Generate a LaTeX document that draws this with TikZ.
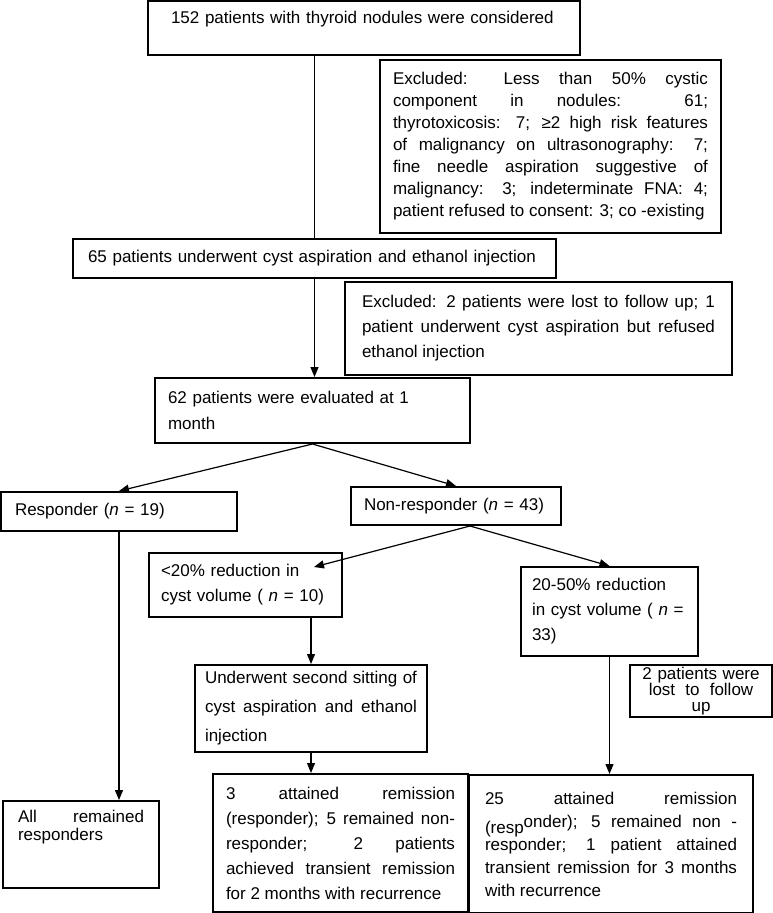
\documentclass[tikz,border=0pt]{standalone}
\usepackage{fontspec}
\setmainfont{Liberation Sans}
\usetikzlibrary{arrows.meta}
\tolerance=10000
\hyphenpenalty=10000
\hbadness=10000

\tikzset{
  flowbox/.style={draw, line width=2pt, inner ysep=0pt, inner xsep=13pt, align=justify},
  flow/.style={line width=1.2pt, -{Triangle[length=10pt,width=8pt]}},
  link/.style={line width=1.2pt}
}

\begin{document}
\begin{tikzpicture}[x=1pt, y=-1pt, font=\fontsize{17}{25}\selectfont]
  \useasboundingbox (0,0) rectangle (773,913);

  % Enrolment
  \node[flowbox, align=left, inner xsep=23pt, text width=386pt, minimum width=432pt, minimum height=54pt, font=\fontsize{17}{16}\selectfont] (consid) at (364,28)
    {152 patients with thyroid nodules were considered\\ \strut};
  \node[flowbox, text width=315pt, minimum width=341pt, minimum height=173pt, font=\fontsize{17}{22}\selectfont] (excl1) at (550.5,146.5)
    {Excluded: Less than 50\% cystic\linebreak component in nodules: 61;\linebreak
     thyrotoxicosis: 7; ≥2 high risk features\linebreak of malignancy on ultrasonography: 7;\linebreak
     fine needle aspiration suggestive of\linebreak malignancy: 3; indeterminate FNA: 4;\linebreak
     patient refused to consent: 3; co -existing};
  \node[flowbox, align=left, inner xsep=15pt, text width=453pt, minimum width=483pt, minimum height=39pt] (inject) at (314.5,258.5)
    {65 patients underwent cyst aspiration and ethanol injection};
  \node[flowbox, inner xsep=17pt, text width=353pt, minimum width=387pt, minimum height=93pt] (excl2) at (538.5,328.5)
    {Excluded: 2 patients were lost to follow up; 1\linebreak
     patient underwent cyst aspiration but refused\linebreak ethanol injection};
  \node[flowbox, align=left, text width=289pt, minimum width=315pt, minimum height=65pt, font=\fontsize{17}{26}\selectfont] (eval) at (312.5,410.5)
    {62 patients were evaluated at 1\\ month};

  % Response at 1 month
  \node[flowbox, align=left, inner xsep=14pt, text width=208pt, minimum width=236pt, minimum height=39pt] (resp) at (119,511.5)
    {Responder (\textit{n} = 19)};
  \node[flowbox, align=left, text width=184pt, minimum width=210pt, minimum height=38pt] (nonresp) at (456,506)
    {Non-responder (\textit{n} = 43)};
  \node[flowbox, align=left, inner xsep=12pt, text width=169pt, minimum width=193pt, minimum height=64pt] (lowred) at (245.5,585)
    {<20\% reduction in\\ cyst volume ( \textit{n} = 10)};
  \node[flowbox, align=left, inner xsep=11pt, text width=155pt, minimum width=177pt, minimum height=89pt] (midred) at (609.5,611.5)
    {20-50\% reduction\\ in cyst volume ( \textit{n} =\\ 33)};
  \node[flowbox, inner xsep=10pt, text width=212pt, minimum width=232pt, minimum height=87pt, font=\fontsize{17}{29}\selectfont] (second) at (311,708.5)
    {Underwent second sitting of\linebreak cyst aspiration and ethanol\linebreak injection};
  \node[flowbox, align=center, inner xsep=11pt, text width=120pt, minimum width=142pt, minimum height=52pt, font=\fontsize{17}{16}\selectfont] (lost) at (701,691)
    {2 patients were\\ lost\hspace{0.6em}to\hspace{0.6em}follow\\ up};

  % Outcome
  \node[flowbox, inner xsep=15pt, text width=126pt, minimum width=156pt, minimum height=87pt, font=\fontsize{17}{18}\selectfont] (allrem) at (81,844.5)
    {All remained\linebreak responders\\[15pt]\strut};
  \node[flowbox, text width=229pt, minimum width=255pt, minimum height=138pt] (remis1) at (340.5,843)
    {3 attained remission\linebreak (responder); 5 remained non-\linebreak
     responder; 2 patients\linebreak achieved transient remission\linebreak
     for 2 months with recurrence};
  \node[flowbox, inner xsep=16pt, text width=252pt, minimum width=284pt, minimum height=138pt, font=\fontsize{17}{23}\selectfont] (remis2) at (611,844)
    {25 attained remission\linebreak \raisebox{-6pt}[0pt][0pt]{(resp}onder); 5 remained non -\linebreak
     responder; 1 patient attained\linebreak transient remission for 3 months\linebreak
     with recurrence};

  % Connectors
  \draw[link] (inject.north |- consid.south) -- (inject.north);
  \draw[flow] (inject.south) -- (inject.south |- eval.north);
  \draw[flow] (eval.south) -- (resp.north);
  \draw[flow] (eval.south) -- (nonresp.north);
  \draw[flow] ([xshift=14pt]nonresp.south) -- ([xshift=-29pt,yshift=-15pt]lowred.north east);
  \draw[flow] ([xshift=14pt]nonresp.south) -- (midred.north);
  \draw[flow] (lowred.south -| second.north) -- (second.north);
  \draw[flow] (second.south) -- (second.south |- remis1.north);
  \draw[flow] (resp.south) -- (resp.south |- allrem.north);
  \draw[flow] (midred.south) -- (midred.south |- remis2.north);
\end{tikzpicture}
\end{document}
